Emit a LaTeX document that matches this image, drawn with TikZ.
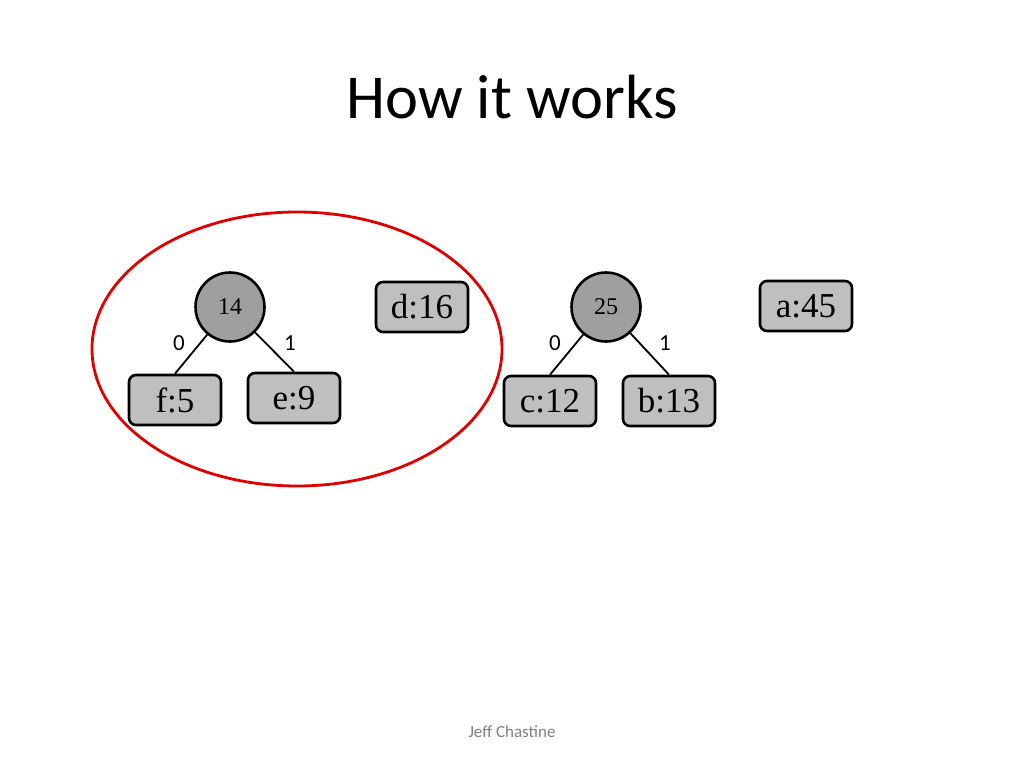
\documentclass[tikz,border=0pt]{standalone}
\usepackage{fontspec}
\setmainfont{Liberation Serif}
\newfontfamily\calibri{Carlito}
\begin{document}
\begin{tikzpicture}[x=1pt,y=-1pt,
  leaf/.style={draw=black,line width=2.6pt,rounded corners=7pt,fill=gray!50!white,minimum width=92pt,minimum height=50pt,inner sep=0pt,font=\fontsize{35}{35}\selectfont},
  inner/.style={circle,draw=black,line width=2.6pt,fill=gray!75!white,minimum size=69pt,inner sep=0pt,font=\fontsize{24}{24}\selectfont},
  edge/.style={line width=1.8pt},
  bit/.style={font=\calibri\fontsize{23}{23}\selectfont}]
\useasboundingbox (0,0) rectangle (1024,768);
\node[font=\calibri\fontsize{62.5}{62.5}\selectfont] (title) at (512,97) {How it works};
\node[inner] (n14) at (230,307) {14};
\node[leaf] (f) at (175,400) {f:5};
\node[leaf] (e) at (294,398) {e:9};
\node[leaf] (d) at (422,307) {d:16};
\node[inner] (n25) at (606,307) {25};
\node[leaf] (c) at (550,401) {c:12};
\node[leaf] (b) at (669,401) {b:13};
\node[leaf] (a) at (806,306) {a:45};
\draw[edge] (n14) -- (f.north);
\draw[edge] (n14) -- (e.north);
\draw[edge] (n25) -- (c.north);
\draw[edge] (n25) -- (b.north);
\node[bit] (l0a) at (179,343) {0};
\node[bit] (l1a) at (290,343) {1};
\node[bit] (l0b) at (555,343) {0};
\node[bit] (l1b) at (665,343) {1};
\draw[line width=2.8pt,draw={rgb,255:red,224;green,0;blue,0}] (297,349) ellipse [x radius=205,y radius=137];
\node[font=\calibri\fontsize{17}{17}\selectfont,text=gray] (foot) at (512,732) {Jeff Chastine};
\end{tikzpicture}
\end{document}
